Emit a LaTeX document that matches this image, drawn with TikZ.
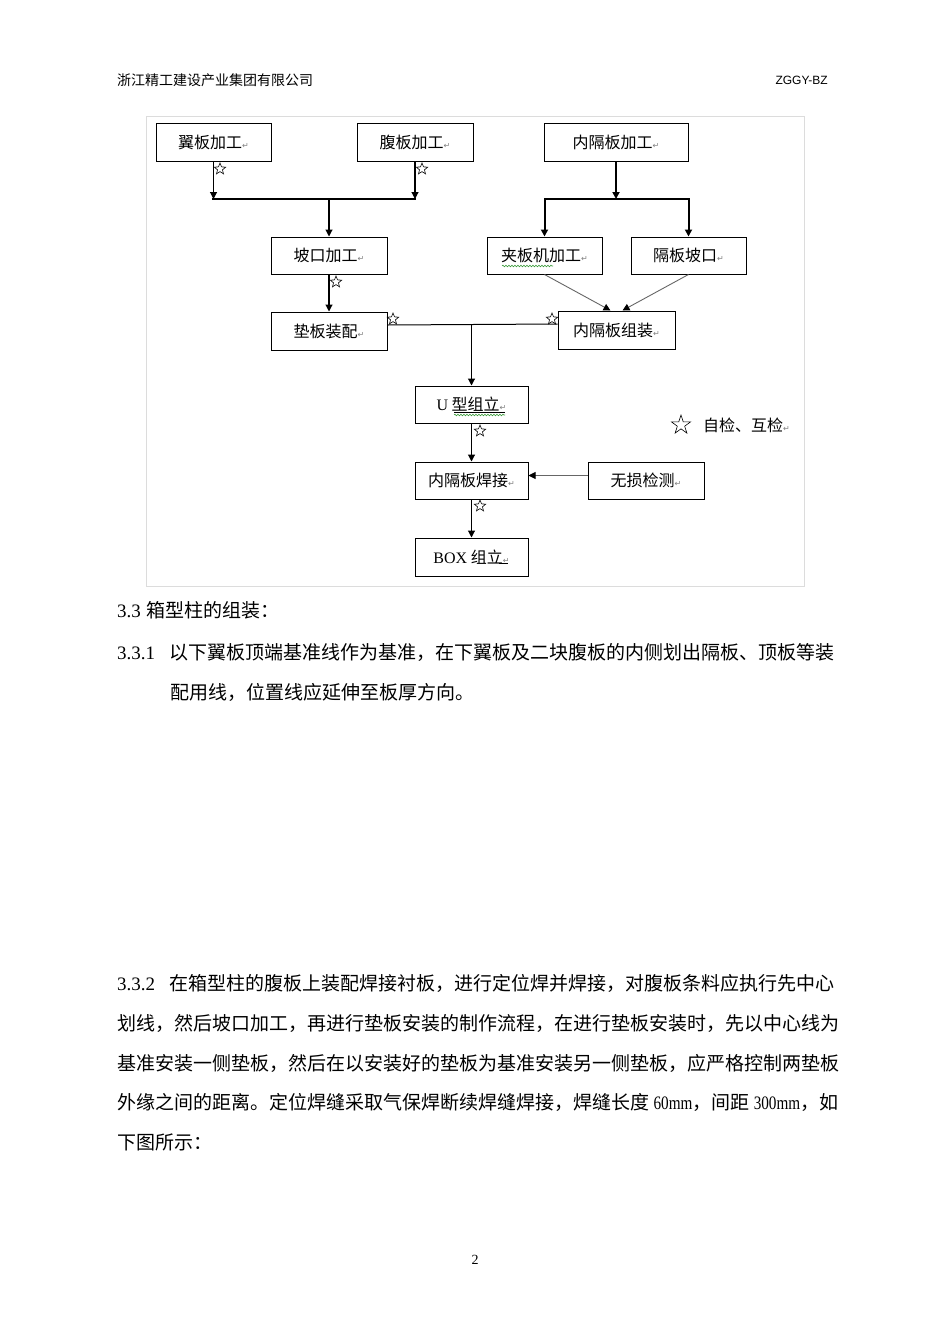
\documentclass[tikz,border=0pt]{standalone}
\usepackage{fontspec}
\setmainfont{Liberation Serif}
\newfontfamily\cjk{Noto Sans CJK SC}
\newfontfamily\dejavu{DejaVu Sans}
\newfontfamily\hdsans{Liberation Sans}
\usepackage{xcolor}
\definecolor{gjframe}{HTML}{DCDCDC}
\definecolor{gjwave}{HTML}{3A9A3A}
\definecolor{gjmark}{HTML}{808080}
\usetikzlibrary{arrows.meta,positioning,shapes.geometric,decorations.pathmorphing}
\XeTeXlinebreaklocale "zh"
\XeTeXlinebreakskip=0pt plus 1pt
\newcommand\parmark{{\dejavu\fontsize{8}{8}\selectfont\color{gjmark}↵}}
\newcommand\narrowlat[1]{{\rmfamily\scalebox{0.8}[1]{#1}}}
\tikzset{
  gjbox/.style={draw,line width=1pt,minimum width=115pt,minimum height=38pt,inner sep=0pt,font=\cjk\fontsize{16}{16}\selectfont},
  gjflow/.style={-{Triangle[length=7pt,width=7pt]},line width=1.1pt},
  gjbar/.style={line width=2.6pt,line cap=rect},
  gjslant/.style={-{Triangle[length=7pt,width=7pt,color=black]},line width=0.9pt,draw=black!60},
  gjstar/.style={star,star points=5,star point ratio=2.3,draw,line width=0.6pt,minimum size=12pt,inner sep=0pt},
  gjbody/.style={anchor=west,inner sep=0pt,font=\cjk\fontsize{19}{19}\selectfont},
  gjwavy/.style={draw=gjwave,line width=0.6pt,decorate,decoration={snake,segment length=3pt,amplitude=0.8pt}},
}
\begin{document}
\begin{tikzpicture}[x=1pt,y=-1pt]
\useasboundingbox[fill=white] (0,0) rectangle (950,1344);
% header
\node[anchor=west,inner sep=0pt,font=\cjk\fontsize{14}{14}\selectfont] (hdl) at (117,80) {浙江精工建设产业集团有限公司};
\node[anchor=east,inner sep=0pt,font=\hdsans\fontsize{12}{12}\selectfont] (hdr) at (828,80) {ZGGY-BZ};
% frame of the chart
\draw[gjframe,line width=0.8pt] (146.5,116) rectangle (804.5,586.5);
% top row
\node[gjbox] (wing) at (213.5,142.5) {翼板加工\parmark};
\node[gjbox,minimum width=116pt] (web) at (415,142.5) {腹板加工\parmark};
\node[gjbox,minimum width=144pt] (inner) at (616,142.5) {内隔板加工\parmark};
% second row
\node[gjbox,minimum width=116pt,minimum height=37pt] (bevel) at (329,255.5) {坡口加工\parmark};
\node[gjbox,minimum height=37pt] (clamp) at (544.5,255.5) {夹板机加工\parmark};
\node[gjbox,minimum height=37pt] (dbevel) at (688.5,255.5) {隔板坡口\parmark};
\node[gjbox,minimum width=116pt,below=37pt of bevel] (pad) {垫板装配\parmark};
\node[gjbox,minimum width=117pt] (dasm) at (616.5,330) {内隔板组装\parmark};
% centre column
\node[gjbox,minimum width=113pt,minimum height=37pt] (uasm) at (471.5,404.5) {{\rmfamily U} 型组立\parmark};
\node[gjbox,minimum width=113pt,minimum height=37pt,below=38pt of uasm] (weld) {内隔板焊接\parmark};
\node[gjbox,minimum width=116pt,minimum height=37pt,right=59pt of weld] (ndt) {无损检测\parmark};
\node[gjbox,minimum width=113pt,below=38pt of weld] (boxa) {{\rmfamily BOX} 组立\parmark};
% joints
\coordinate (jl) at (213.5,199);
\coordinate (jr) at (415,199);
\coordinate (jm) at (329,199);
\coordinate (kt) at (616,199);
\coordinate (kl) at (544.5,199);
\coordinate (kr) at (688.5,199);
\coordinate (mj) at (471.5,324);
% connectors
\draw[gjflow] (wing) -- (jl);
\draw[gjflow] (web) -- (jr);
\draw[gjbar] (jl) -- (jr);
\draw[gjflow] (jm) -- (bevel);
\draw[gjflow] (bevel) -- (pad);
\draw[gjflow,line width=2pt] (inner) -- (kt);
\draw[gjbar,line width=2pt] (kl) -- (kr);
\draw[gjflow,line width=2pt] (kl) -- (clamp);
\draw[gjflow,line width=2pt] (kr) -- (dbevel);
\draw[gjslant] (clamp.south) -- ([xshift=-6pt]dasm.north);
\draw[gjslant] (dbevel.south) -- ([xshift=6pt]dasm.north);
\draw[line width=1pt] ([yshift=6pt]pad.east) -- ([yshift=6pt]dasm.west);
\draw[gjflow] (mj) -- (uasm);
\draw[gjflow] (uasm) -- (weld);
\draw[gjflow] (weld) -- (boxa);
\draw[gjslant] ([yshift=5pt]ndt.west) -- ([yshift=5pt]weld.east);
% check marks
\node[gjstar] (st1) at (220,169) {};
\node[gjstar] (st2) at (422,169) {};
\node[gjstar] (st3) at (336,282) {};
\node[gjstar] (st4) at (393,319) {};
\node[gjstar] (st5) at (552,319) {};
\node[gjstar] (st6) at (480,431) {};
\node[gjstar] (st7) at (480,506) {};
% legend
\node[gjstar,minimum size=20pt,star point ratio=2.6] (lgs) at (681,425) {};
\node[anchor=west,inner sep=0pt,font=\cjk\fontsize{16}{16}\selectfont] (lgt) at (703,425) {自检、互检\parmark};
% spell marks
\draw[line width=0.5pt] (454,412) -- (505,412);
\draw[gjwavy] (454,415) -- (505,415);
\draw[gjwavy] (502,266) -- (553,266);
\draw[line width=0.5pt] (499,563) -- (508,563);
% body text
\node[gjbody] (p33) at (117,610) {\makebox[29pt][l]{\rmfamily 3.3}箱型柱的组装：};
\node[gjbody] (p331a) at (117,652) {\makebox[721pt][s]{\makebox[52pt][l]{\rmfamily 3.3.1}以下翼板顶端基准线作为基准，在下翼板及二块腹板的内侧划出隔板、顶板等装}};
\node[gjbody] (p331b) at (170,692) {配用线，位置线应延伸至板厚方向。};
\node[gjbody] (p332a) at (117,983) {\makebox[721pt][s]{\makebox[52pt][l]{\rmfamily 3.3.2}在箱型柱的腹板上装配焊接衬板，进行定位焊并焊接，对腹板条料应执行先中心}};
\node[gjbody] (p332b) at (117,1023) {\makebox[721pt][s]{划线，然后坡口加工，再进行垫板安装的制作流程，在进行垫板安装时，先以中心线为}};
\node[gjbody] (p332c) at (117,1063) {\makebox[721pt][s]{基准安装一侧垫板，然后在以安装好的垫板为基准安装另一侧垫板，应严格控制两垫板}};
\node[gjbody] (p332d) at (117,1102) {\makebox[721pt][s]{外缘之间的距离。定位焊缝采取气保焊断续焊缝焊接，焊缝长度 \narrowlat{60mm}，间距 \narrowlat{300mm}，如}};
\node[gjbody] (p332e) at (117,1142) {下图所示：};
% page number
\node[inner sep=0pt,font=\fontsize{14}{14}\selectfont] (pg) at (475,1260) {2};
\end{tikzpicture}
\end{document}
